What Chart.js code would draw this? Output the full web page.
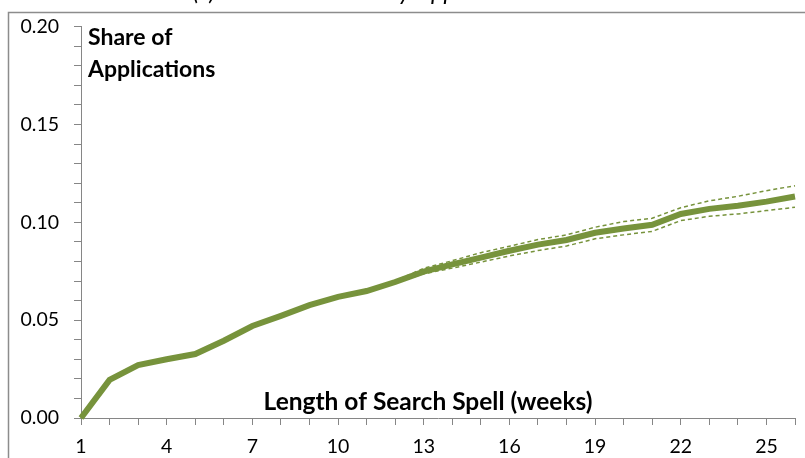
<!DOCTYPE html>
<html>
<head>
<meta charset="utf-8">
<script src="https://cdn.jsdelivr.net/npm/chart.js@4.4.1/dist/chart.umd.min.js"></script>
<style>
  html, body { margin: 0; padding: 0; background: #fff; }
  #wrap { width: 805px; height: 458px; }
</style>
</head>
<body>
<div id="wrap"><canvas id="chartShare"></canvas></div>
<script>
// weeks of search spell
const weeks = [1, 2, 3, 4, 5, 6, 7, 8, 9, 10, 11, 12, 13, 14, 15, 16, 17, 18, 19, 20, 21, 22, 23, 24, 25, 26];

// share of applications to previously applied-to vacancies
const shareMain = [0.0000, 0.0195, 0.0270, 0.0300, 0.0327, 0.0395, 0.0470, 0.0522, 0.0577, 0.0619, 0.0649, 0.0695, 0.0748,
                   0.0785, 0.0820, 0.0855, 0.0886, 0.0910, 0.0947, 0.0969, 0.0988, 0.1043, 0.1069, 0.1085, 0.1106, 0.1132];
const shareUpper = [0.0000, 0.0197, 0.0273, 0.0303, 0.0330, 0.0398, 0.0473, 0.0525, 0.0580, 0.0623, 0.0653, 0.0701, 0.0765,
                    0.0804, 0.0845, 0.0878, 0.0912, 0.0936, 0.0975, 0.1004, 0.1021, 0.1075, 0.1110, 0.1133, 0.1162, 0.1187];
const shareLower = [0.0000, 0.0193, 0.0267, 0.0297, 0.0324, 0.0392, 0.0467, 0.0519, 0.0574, 0.0615, 0.0645, 0.0689, 0.0737,
                    0.0766, 0.0797, 0.0828, 0.0856, 0.0879, 0.0916, 0.0936, 0.0954, 0.1009, 0.1031, 0.1043, 0.1060, 0.1077];

const titleText = '(c) Share to Previously Applied-to Vacancies';
const yTitle = ['Share of', 'Applications'];
const xTitle = 'Length of Search Spell (weeks)';

const green = '#77933c';
const axisGrey = '#868686';

// frame, cut-off title and the two axis captions
const extras = {
    id: 'extras',
    beforeDraw(chart) {
        const c = chart.ctx;
        c.save();
        c.strokeStyle = '#8c8c8c';
        c.lineWidth = 1.5;
        c.strokeRect(8.5, 12.5, 1000, 1000);
        c.restore();
    },
    afterDraw(chart) {
        const c = chart.ctx;
        c.save();
        c.fillStyle = '#000';
        c.textBaseline = 'alphabetic';
        c.textAlign = 'center';
        c.font = 'italic 24px Lato';
        c.fillText(titleText, 409, 0);

        c.textAlign = 'left';
        c.font = 'bold 23px Lato';
        c.fillText(yTitle[0], 88, 45);
        c.fillText(yTitle[1], 88, 77);

        c.textAlign = 'center';
        c.font = 'bold 24.5px Lato';
        c.fillText(xTitle, 428, 410);
        c.restore();
    }
};

const ctx = document.getElementById('chartShare').getContext('2d');
const myChart = new Chart(ctx, {
    type: 'line',
    data: {
        labels: weeks.map(String),
        datasets: [{
            label: 'Upper bound',
            data: shareUpper,
            borderColor: green,
            borderWidth: 1.5,
            borderDash: [4, 3],
            pointRadius: 0,
            fill: false
        }, {
            label: 'Lower bound',
            data: shareLower,
            borderColor: green,
            borderWidth: 1.5,
            borderDash: [4, 3],
            pointRadius: 0,
            fill: false
        }, {
            label: 'Share',
            data: shareMain,
            borderColor: green,
            borderWidth: 6,
            pointRadius: 0,
            fill: false
        }]
    },
    options: {
        responsive: true,
        maintainAspectRatio: false,
        animation: false,
        clip: false,
        layout: { padding: { top: 25, right: 0, bottom: 0, left: 0 } },
        plugins: {
            legend: { display: false },
            title: { display: false },
            tooltip: { enabled: false }
        },
        scales: {
            x: {
                type: 'category',
                offset: false,
                grid: { drawOnChartArea: false, drawTicks: true, tickLength: 7, color: axisGrey },
                border: { color: axisGrey, width: 1 },
                ticks: {
                    autoSkip: false,
                    maxRotation: 0,
                    padding: 10,
                    color: '#000',
                    font: { family: 'Lato', size: 19.5 },
                    callback: function (val, i) {
                        return i % 3 === 0 ? this.getLabelForValue(val) : '';
                    }
                },
                afterFit: function (scale) { scale.height = 40; }
            },
            y: {
                min: 0,
                max: 0.20,
                grid: { drawOnChartArea: false, drawTicks: true, tickLength: 7, color: axisGrey },
                border: { color: axisGrey, width: 1 },
                ticks: {
                    stepSize: 0.01,
                    maxTicksLimit: 30,
                    autoSkip: false,
                    padding: 15,
                    color: '#000',
                    font: { family: 'Lato', size: 19.5 },
                    callback: v => Math.round(v * 100) % 5 === 0 ? v.toFixed(2) : ''
                },
                afterFit: function (scale) { scale.width = 81; }
            }
        }
    },
    plugins: [extras]
});
</script>
</body>
</html>
